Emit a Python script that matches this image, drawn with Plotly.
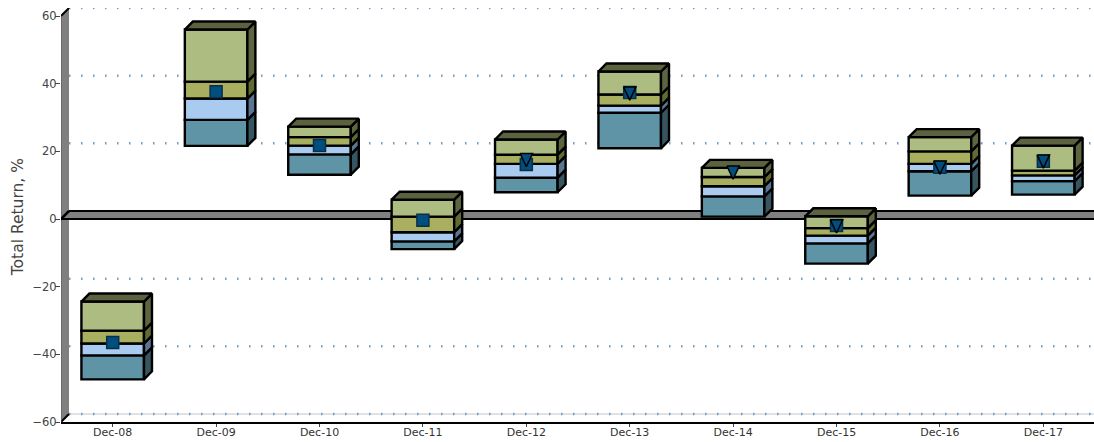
import plotly.graph_objects as go

categories = ["Dec-08", "Dec-09", "Dec-10", "Dec-11", "Dec-12", "Dec-13", "Dec-14", "Dec-15", "Dec-16", "Dec-17"]
p95 = [-24.4, 56.0, 27.3, 5.7, 23.5, 43.6, 15.1, 0.8, 24.2, 21.7]
p75 = [-33.0, 40.6, 24.2, 0.7, 19.0, 36.8, 12.4, -2.7, 20.0, 14.3]
p50 = [-36.8, 35.6, 21.7, -3.9, 16.3, 33.5, 9.7, -4.9, 16.3, 12.9]
p25 = [-40.3, 29.3, 19.1, -6.6, 12.2, 31.4, 6.7, -7.2, 14.1, 11.2]
p05 = [-47.4, 21.6, 13.1, -8.9, 7.9, 20.9, 0.7, -13.2, 6.9, 7.2]
square_vals = [-36.5, 37.6, 21.7, -0.4, 16.1, 37.4, None, -1.9, 15.3, 17.1]
triangle_vals = [None, None, None, None, 17.4, 37.1, 13.7, -2.2, 15.2, 17.0]
y_ticks = [-60, -40, -20, 0, 20, 40, 60]

# drawing constants
W, DX, DY = 0.605, 0.0774, 2.365
X0, X1 = -0.5, 9.49
TRI_W, TRI_H = 0.06, 1.95
x = list(range(len(categories)))

seg_front = ["#5F93A6", "#A8CBEF", "#A8B060", "#ADBC80"]
seg_side = ["#375560", "#5A7491", "#5F6B30", "#5C6440"]
top_col = "#5C6140"
segments = [(p05, p25), (p25, p50), (p50, p75), (p75, p95)]

fig = go.Figure()

for (lo, hi), c in zip(segments, seg_front):
    fig.add_trace(go.Bar(x=x, y=[h - l for h, l in zip(hi, lo)], base=lo, width=W,
                         marker=dict(color=c, line=dict(color="black", width=2.4)), showlegend=False))

for (lo, hi), c in zip(segments, seg_side):
    px, py = [], []
    for i, l, h in zip(x, lo, hi):
        r = i + W / 2
        px += [r, r + DX, r + DX, r, r, None]
        py += [l, l + DY, h + DY, h, l, None]
    fig.add_trace(go.Scatter(x=px, y=py, mode="lines", fill="toself", fillcolor=c,
                             line=dict(color="black", width=2.4), showlegend=False, cliponaxis=False))

tx, ty = [], []
for i, t in zip(x, p95):
    a, b = i - W / 2, i + W / 2
    tx += [a, a + DX, b + DX, b, a, None]
    ty += [t, t + DY, t + DY, t, t, None]
fig.add_trace(go.Scatter(x=tx, y=ty, mode="lines", fill="toself", fillcolor=top_col,
                         line=dict(color="black", width=2.4), showlegend=False, cliponaxis=False))

fig.add_trace(go.Scatter(x=x, y=square_vals, mode="markers", showlegend=False, cliponaxis=False,
                         marker=dict(symbol="square", size=12, color="#004F7F",
                                     line=dict(color="#0B2F46", width=1.5))))

gx, gy = [], []
for i, v in zip(x, triangle_vals):
    if v is not None:
        gx += [i - TRI_W, i + TRI_W, i, i - TRI_W, None]
        gy += [v + TRI_H, v + TRI_H, v - TRI_H, v + TRI_H, None]
fig.add_trace(go.Scatter(x=gx, y=gy, mode="lines", fill="toself", fillcolor="#004F7F",
                         line=dict(color="black", width=1.5), showlegend=False, cliponaxis=False))

shapes = []
GREY = "#808080"
def poly(pts, fill, line=None, lw=0):
    path = "M " + " L ".join(f"{a},{b}" for a, b in pts) + " Z"
    shapes.append(dict(type="path", path=path, xref="x", yref="y", layer="below",
                       fillcolor=fill, line=dict(color=line or fill, width=lw)))
def seg(a, b, color="black", w=2, dash="solid"):
    shapes.append(dict(type="line", x0=a[0], y0=a[1], x1=b[0], y1=b[1], xref="x", yref="y",
                       layer="below", line=dict(color=color, width=w, dash=dash)))

seg((X0 + DX, -60 + DY), (X1, -60 + DY), "#C4C4C4", 1)
for v in y_ticks:
    if v != 0:
        seg((X0 + DX, v + DY), (X1, v + DY), "#6FA0C8", 2.5, "1.5px,10.5px")

poly([(X0, -60), (X0 + DX, -60 + DY), (X0 + DX, 60 + DY), (X0, 60)], GREY)
seg((X0, 60), (X0 + DX, 60 + DY), "black", 2)
seg((X0, -60), (X0 + DX, -60 + DY), "black", 2)
seg((X0, -60), (X0, 60), "#555555", 1)
poly([(X0, 0), (X0 + DX, DY), (X1, DY), (X1, 0)], GREY)
seg((X0, 0), (X0 + DX, DY), "black", 2.5)
seg((X0 + DX, DY), (X1, DY), "black", 2)
seg((X0, 0), (X1, 0), "black", 2)

fig.update_layout(
    width=1094, height=442,
    margin=dict(l=61, r=0, t=8, b=19.5),
    barmode="overlay",
    plot_bgcolor="white", paper_bgcolor="white",
    font=dict(family="DejaVu Sans", color="#444444"),
    shapes=shapes,
    annotations=[dict(text="Total Return, %", xref="paper", yref="paper",
                      x=(17.5 - 61) / 1033, y=(422.5 - 218) / 414.5, textangle=-90, showarrow=False,
                      xanchor="center", yanchor="middle", font=dict(size=15.5, color="#444444"))],
    xaxis=dict(range=[X0, X1], tickmode="array", tickvals=x, ticktext=categories, showgrid=False,
               zeroline=False, showline=True, linecolor="black", linewidth=1.5, ticks="outside",
               ticklen=3, tickcolor="#444444", tickwidth=1, tickfont=dict(size=11, color="#333333"),
               ticklabelstandoff=-4),
    yaxis=dict(range=[-60, 60 + DY], tickmode="array", tickvals=y_ticks, showgrid=False,
               zeroline=False, showline=False, ticks="outside", ticklen=5, tickcolor="#444444",
               tickwidth=1, tickfont=dict(size=11.5), ticklabelstandoff=-4),
)

fig.write_html("out.html", post_script="document.body.style.margin='0';", config={"displayModeBar": False})
